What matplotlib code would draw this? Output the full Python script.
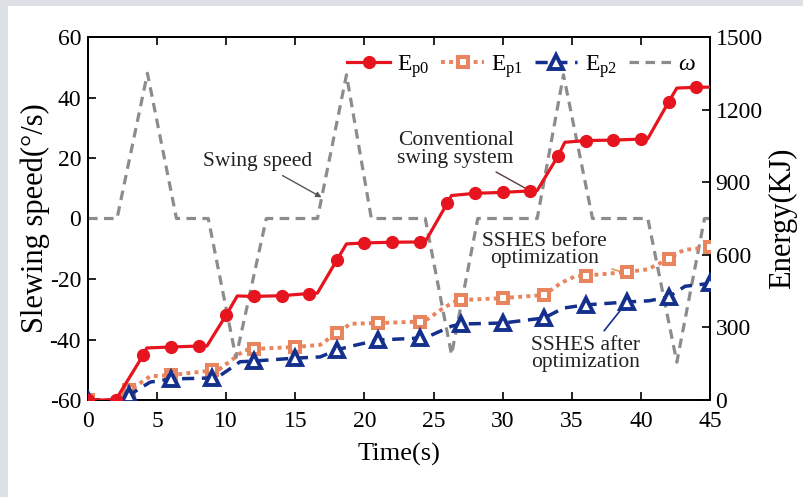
import matplotlib
matplotlib.use('Agg')
import matplotlib.pyplot as plt
from matplotlib.patches import Rectangle

plt.rcParams['font.family'] = ['Liberation Serif', 'DejaVu Serif']
plt.rcParams['mathtext.fontset'] = 'custom'
plt.rcParams['mathtext.rm'] = 'Liberation Serif'
plt.rcParams['mathtext.it'] = 'Liberation Serif:italic'
plt.rcParams['axes.unicode_minus'] = False

# swing speed (deg/s), corner points of the trapezoid-like profile
t_w = [0, 2.1, 4.3, 6.4, 8.7, 10.7, 12.9, 16.6, 18.7, 20.5, 24.4, 26.3,
       28.2, 32.5, 34.4, 36.5, 40.5, 42.6, 44.6, 45]
w = [0, 0, 48, 0, 0, -46, 0, 0, 47.5, 0, 0, -45,
     0, 0, 47.5, 0, 0, -47.5, 0, 0]

# conventional swing system energy (kJ)
t_p0 = [0, 2, 4, 4.25, 6, 8, 8.6, 10, 10.8, 12, 14, 16, 16.6, 18, 18.7, 20,
        22, 24, 24.4, 26, 26.3, 28, 30, 32, 32.5, 34, 34.5, 36, 38, 40, 40.5,
        42, 42.6, 44, 45]
e_p0 = [0, 0, 186, 215, 219, 223, 223, 351, 430, 428, 431, 440, 442, 578, 645, 649,
        652, 653, 654, 814, 845, 854, 858, 864, 866, 1008, 1065, 1072, 1074, 1078, 1080,
        1231, 1289, 1292, 1293]
mk_p0 = list(range(0, 45, 2))

# SSHES before optimization
t_p1 = [0, 2.1, 3, 4.5, 6, 9, 9.5, 10.5, 11.3, 12, 15, 16.8, 18, 19, 21, 24,
        24.6, 25.7, 26.6, 27, 30, 33, 34.2, 35.2, 36, 39, 40.5, 42, 43.1, 45]
e_p1 = [0, 0, 40, 98, 103, 122, 127, 170, 205, 211, 219, 228, 277, 315, 318, 324,
        335, 380, 408, 413, 421, 434, 483, 510, 514, 529, 540, 583, 620, 632]
mk_p1 = list(range(0, 46, 3))

# SSHES after optimization
t_p2 = [0, 2.1, 3, 4.5, 6, 9, 9.4, 10.3, 11, 12, 15, 16.8, 18, 19, 21, 24,
        24.6, 26.3, 27, 30, 33, 34.4, 36, 39, 40.6, 42, 43.2, 45]
e_p2 = [0, 0, 21, 74, 87, 91, 95, 130, 158, 161, 173, 178, 207, 222, 248, 256,
        262, 305, 314, 318, 339, 380, 393, 405, 410, 426, 470, 482]
mk_p2 = list(range(0, 46, 3))

red = '#e6141e'
orange = '#e8845e'
navy = '#14308c'
gray = '#8c8c8c'

fig = plt.figure(figsize=(8.04, 4.97), dpi=100, facecolor='#dde1e6')
fig.patches.append(Rectangle((8 / 804, 0), 1, 1 - 6 / 497, transform=fig.transFigure,
                             facecolor='white', edgecolor='none', zorder=-10))
ax = fig.add_axes([88 / 804, 1 - 400 / 497, 622 / 804, 363 / 497])
ax2 = ax.twinx()


def marks(ts, mk):
    return [i for i, t in enumerate(ts) if t in mk]


lw_, = ax.plot(t_w, w, color=gray, lw=2.3, dashes=(3, 2), label=r'$\it{\omega}$')
l0, = ax2.plot(t_p0, e_p0, color=red, lw=2.3, marker='o', ms=8.5,
               markevery=marks(t_p0, mk_p0), label=r'$\mathrm{E_{p0}}$', zorder=5)
l1, = ax2.plot(t_p1, e_p1, color=orange, lw=2.8, dashes=(1, 1.1), marker='s', ms=7.5,
               mfc='white', mew=2.9, markevery=marks(t_p1, mk_p1),
               label=r'$\mathrm{E_{p1}}$', zorder=4)
l2, = ax2.plot(t_p2, e_p2, color=navy, lw=2.5, dashes=(3.5, 2.2), marker='^', ms=9.5,
               mfc='white', mew=2.8, markevery=marks(t_p2, mk_p2),
               label=r'$\mathrm{E_{p2}}$', zorder=4)

ax.set_xlim(0, 45)
ax.set_ylim(-60, 60)
ax2.set_ylim(0, 1500)
ax.set_xticks(range(0, 46, 5))
ax.set_yticks(range(-60, 61, 20))
ax2.set_yticks(range(0, 1501, 300))

ax.tick_params(direction='in', length=6, width=1.2, labelsize=17, top=True, right=False, pad=5)
ax.tick_params(axis='x', pad=8)
ax2.tick_params(direction='in', length=6, width=1.2, labelsize=17, pad=4)
for a in (ax, ax2):
    for s in a.spines.values():
        s.set_linewidth(1.3)

ax.set_xlabel('Time(s)', fontsize=19, labelpad=8)
ax.set_ylabel('Slewing speed(°/s)', fontsize=22, labelpad=0)
ax2.set_ylabel('Energy(KJ)', fontsize=22, labelpad=4)

ax2.legend(handles=[l0, l1, l2, lw_], loc='upper right', bbox_to_anchor=(1.0, 0.995),
           ncol=4, frameon=False, fontsize=17, handlelength=1.8, columnspacing=0.5,
           handletextpad=0.3, borderaxespad=0.2)

ax.annotate('Swing speed', xy=(16.9, 7), xytext=(12.3, 18.7), fontsize=15.5,
            ha='center', va='center', color='#222222',
            arrowprops=dict(arrowstyle='-|>', color='#555555', lw=1, shrinkB=0,
                            mutation_scale=8))
ax2.annotate('Conventional\nswing system', xy=(31.8, 870), xytext=(26.6, 1035),
             fontsize=15.5, ha='center', va='center', linespacing=0.9, color='#222222',
             arrowprops=dict(arrowstyle='-', color='#5a3a3a', lw=1, shrinkB=0))
ax2.annotate('SSHES before\noptimization', xy=(38.6, 530), xytext=(33.0, 620),
             fontsize=15.5, ha='center', va='center', linespacing=0.9, color='#222222',
             arrowprops=dict(arrowstyle='-', color='#e89a50', lw=1.2, shrinkB=0))
ax2.annotate('SSHES after\noptimization', xy=(39.0, 405), xytext=(36.0, 190),
             fontsize=15.5, ha='center', va='center', linespacing=0.9, color='#222222',
             arrowprops=dict(arrowstyle='-', color=navy, lw=1.2, shrinkB=0))

fig.savefig('out.png', dpi=100, facecolor=fig.get_facecolor())
